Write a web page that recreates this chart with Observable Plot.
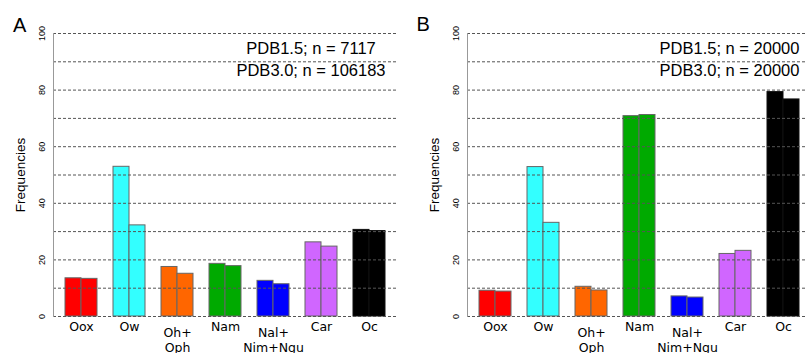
<!DOCTYPE html>
<html><head><meta charset="utf-8">
<script src="https://cdn.jsdelivr.net/npm/d3@7"></script>
<script src="https://cdn.jsdelivr.net/npm/@observablehq/plot@0.6"></script>
<style>
html,body{margin:0;padding:0;background:#fff;overflow:hidden;width:805px;height:353px;}
body{position:relative;font-family:"Liberation Sans",Arial,sans-serif;color:#000;}
.panel{position:absolute;top:0;width:400px;height:353px;}
.panel svg{position:absolute;left:0;top:0;}
.letter{position:absolute;font-size:20px;line-height:20px;}
.note{position:absolute;width:220px;text-align:center;font-size:16.5px;line-height:22px;white-space:nowrap;}
</style></head><body>
<div id="A" class="panel" style="left:0"></div>
<div id="B" class="panel" style="left:414px"></div>
<div class="letter" style="left:13px;top:15px">A</div>
<div class="letter" style="left:416.5px;top:14px">B</div>
<div id="noteA" class="note" style="left:201px;top:37px"></div>
<div id="noteB" class="note" style="left:619.5px;top:37px"></div>
<script>
const categories = ["Oox", "Ow", "Oh+\nOph", "Nam", "Nal+\nNim+Ngu", "Car", "Oc"];
const singleLineCats = ["Oox", "Ow", "Nam", "Car", "Oc"];
const multiLineCats = ["Oh+\nOph", "Nal+\nNim+Ngu"];
const barColors = ["#ff0000", "#33ffff", "#ff6600", "#00aa00", "#0000ff", "#d066ff", "#000000"];

const panelA_pdb15 = [13.5, 52.9, 17.5, 18.6, 12.6, 26.2, 30.6];
const panelA_pdb30 = [13.3, 32.2, 15.1, 17.8, 11.4, 24.7, 30.2];
const panelB_pdb15 = [9.1, 52.8, 10.5, 70.8, 7.1, 22.1, 79.3];
const panelB_pdb30 = [8.8, 33.1, 9.2, 71.2, 6.7, 23.2, 76.7];

const yTicks = [0, 20, 40, 60, 80, 100];
const gridValues = [0, 10, 20, 30, 40, 50, 60, 70, 80, 90, 100];
const yLabel = "Frequencies";
const panelA_notes = ["PDB1.5; n = 7117", "PDB3.0; n = 106183"];
const panelB_notes = ["PDB1.5; n = 20000", "PDB3.0; n = 20000"];

function panel(v15, v30) {
  const rows = categories.map((c, i) => ({cat: c, color: barColors[i], a: v15[i], b: v30[i]}));
  const edge = d => d.color === "#000000" ? "#111" : "#666";
  return Plot.plot({
    width: 400, height: 353,
    marginLeft: 53, marginRight: 3, marginTop: 33, marginBottom: 37,
    style: {fontFamily: "'Liberation Sans', Arial, sans-serif", background: "transparent", color: "#000"},
    x: {domain: categories, paddingInner: 1/3, paddingOuter: 0.25, axis: null},
    y: {domain: [0, 100], axis: null},
    color: {type: "identity"},
    marks: [
      Plot.barY(rows, {x: "cat", y: "a", fill: "color", stroke: edge, strokeWidth: 1, insetRight: 16}),
      Plot.barY(rows, {x: "cat", y: "b", fill: "color", stroke: edge, strokeWidth: 1, insetLeft: 16}),
      Plot.ruleY(gridValues, {stroke: "#555", strokeDasharray: "3,2", strokeWidth: 1}),
      Plot.frame({anchor: "left", stroke: "#999"}),
      Plot.axisY(yTicks, {tickSize: 0, tickPadding: 11, rotate: -90, textAnchor: "middle", fontSize: 9, label: null}),
      Plot.axisX(singleLineCats, {tickSize: 0, tickPadding: 6, fontSize: 12.5, fontFamily: "DejaVu Sans", label: null}),
      Plot.axisX(multiLineCats, {tickSize: 0, tickPadding: 9, fontSize: 12.5, fontFamily: "DejaVu Sans", lineHeight: 1.25, label: null}),
      Plot.text([yLabel], {text: d => d, frameAnchor: "left", dx: -32.5, rotate: -90, fontSize: 13.5, textAnchor: "middle"})
    ]
  });
}

document.getElementById("A").appendChild(panel(panelA_pdb15, panelA_pdb30));
document.getElementById("B").appendChild(panel(panelB_pdb15, panelB_pdb30));
document.getElementById("noteA").innerHTML = panelA_notes.join("<br>");
document.getElementById("noteB").innerHTML = panelB_notes.join("<br>");
</script>
</body></html>
